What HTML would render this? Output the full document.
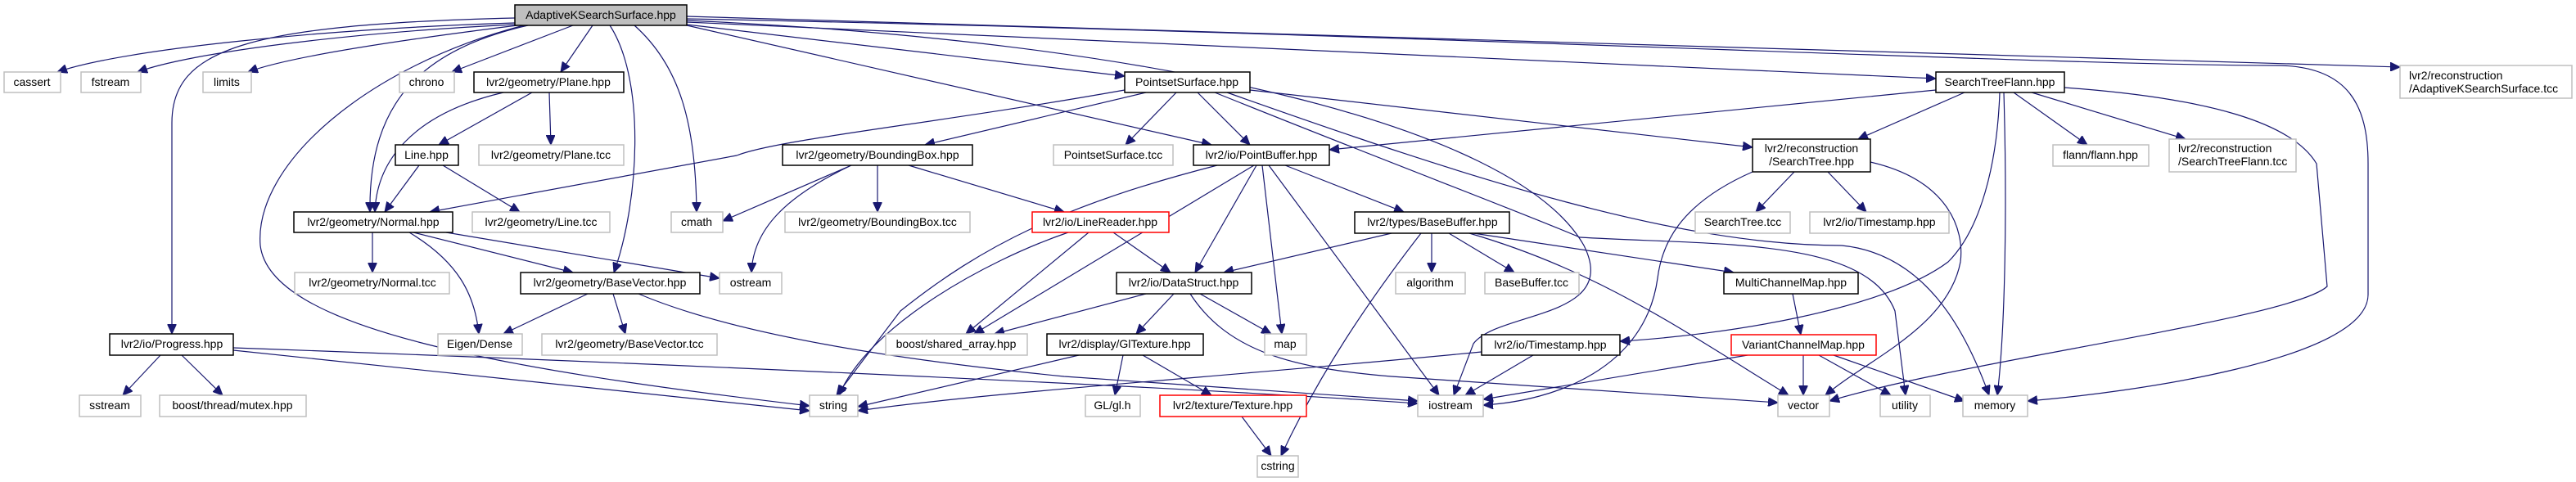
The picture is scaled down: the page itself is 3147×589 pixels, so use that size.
<!DOCTYPE html>
<html><head><meta charset="utf-8"><style>
html,body{margin:0;padding:0;background:#fff;}
svg{display:block;}
text{font-family:"Liberation Sans","DejaVu Sans",sans-serif;font-size:14px;fill:#000;}
.g{fill:#fff;stroke:#bfbfbf;stroke-width:1.5}
.b{fill:#fff;stroke:#000;stroke-width:1.5}
.r{fill:#fff;stroke:#ff0000;stroke-width:1.5}
.t{fill:#bfbfbf;stroke:#000;stroke-width:1.5}
.e path{fill:none;stroke:#191970;stroke-width:1.2;marker-end:url(#a)}
</style></head><body>
<svg width="3147" height="589" viewBox="0 0 3147 589" xmlns="http://www.w3.org/2000/svg">
<defs><marker id="a" markerUnits="userSpaceOnUse" markerWidth="13" markerHeight="11" refX="12" refY="5.5" orient="auto"><path d="M0,0 L12,5.5 L0,11 Z" fill="#191970" stroke="#191970"/></marker></defs>
<g class="e">
<path d="M629,28 C400,35 150,60 70,88"/>
<path d="M629,30 C420,40 230,65 168,88"/>
<path d="M632,31 C480,50 350,70 303,88"/>
<path d="M700,31 L552,88"/>
<path d="M724,31 L685,88"/>
<path d="M645,31 C520,60 450,120 452,259"/>
<path d="M640,31 C450,80 310,200 318,300 C330,400 600,450 989,496"/>
<path d="M629,22 C300,30 210,60 210,150 L210,408"/>
<path d="M745,31 C790,100 780,250 750,333"/>
<path d="M775,31 C830,80 850,150 851,259"/>
<path d="M839,30 L1374,93"/>
<path d="M839,31 L1480,177"/>
<path d="M839,25 C1400,50 1850,150 1935,300 C1980,390 1830,380 1800,420 L1776,483"/>
<path d="M839,27 L2365,96"/>
<path d="M839,23 C1700,40 2500,80 2780,80 C2870,80 2893,130 2893,200 L2893,360 C2893,440 2600,480 2477,490"/>
<path d="M839,20 L2932,82"/>
<path d="M615,113 C500,140 460,200 458,259"/>
<path d="M650,113 L536,177"/>
<path d="M671,113 L673,177"/>
<path d="M512,202 L470,259"/>
<path d="M541,202 L635,259"/>
<path d="M1374,110 C1150,150 950,170 900,190 L525,259"/>
<path d="M1400,113 L1130,177"/>
<path d="M1437,113 L1375,177"/>
<path d="M1463,113 L1527,177"/>
<path d="M1527,110 L2141,180"/>
<path d="M1499,113 C1800,220 2050,300 2250,300 C2350,310 2400,400 2430,483"/>
<path d="M1484,113 C1700,200 1860,260 1930,290 C2100,300 2280,290 2315,380 L2328,483"/>
<path d="M1487,202 C1300,250 1200,300 1100,380 L1022,483"/>
<path d="M1532,202 L1190,408"/>
<path d="M1535,202 L1460,333"/>
<path d="M1542,202 L1566,408"/>
<path d="M1570,202 L1715,259"/>
<path d="M1550,202 L1758,483"/>
<path d="M1040,202 L883,270"/>
<path d="M1072,202 L1072,259"/>
<path d="M1110,202 L1300,259"/>
<path d="M1040,202 C960,240 920,280 918,333"/>
<path d="M1305,284 C1200,320 1060,400 1025,483"/>
<path d="M1330,284 L1180,408"/>
<path d="M1360,284 L1430,333"/>
<path d="M1700,285 L1495,333"/>
<path d="M1749,285 L1749,333"/>
<path d="M1770,285 L1850,333"/>
<path d="M1800,285 L2118,333"/>
<path d="M1795,285 C1950,330 2050,400 2185,483"/>
<path d="M1736,285 C1670,370 1610,460 1565,557"/>
<path d="M1400,359 L1215,408"/>
<path d="M1434,359 L1388,408"/>
<path d="M1466,359 L1553,408"/>
<path d="M1454,359 C1500,430 1580,450 1700,460 L2172,492"/>
<path d="M1318,434 L1048,497"/>
<path d="M1372,434 L1362,483"/>
<path d="M1396,434 L1480,483"/>
<path d="M1517,509 L1553,557"/>
<path d="M2190,359 L2200,409"/>
<path d="M2135,434 L1812,488"/>
<path d="M2203,434 L2203,483"/>
<path d="M2222,434 L2310,483"/>
<path d="M2240,434 L2400,490"/>
<path d="M2192,210 L2145,259"/>
<path d="M2233,210 L2280,259"/>
<path d="M2141,210 C2050,250 2030,300 2025,340 C2010,450 1900,490 1812,495"/>
<path d="M2285,198 C2380,220 2400,280 2395,320 C2380,400 2280,440 2230,483"/>
<path d="M2365,110 L1624,183"/>
<path d="M2400,113 L2270,170"/>
<path d="M2460,113 L2550,177"/>
<path d="M2482,113 L2670,170"/>
<path d="M2448,113 C2452,250 2450,400 2440,483"/>
<path d="M2443,113 C2440,200 2420,280 2380,320 C2300,380 2100,410 1979,417"/>
<path d="M2522,107 C2700,120 2800,150 2830,200 L2843,350 C2800,390 2400,440 2235,490"/>
<path d="M1810,430 C1500,460 1200,480 1048,502"/>
<path d="M1873,434 L1790,483"/>
<path d="M285,428 L989,502"/>
<path d="M285,425 C700,440 1400,470 1732,493"/>
<path d="M196,434 L150,483"/>
<path d="M222,434 L272,483"/>
<path d="M718,359 L615,408"/>
<path d="M749,359 L764,408"/>
<path d="M780,359 C900,410 1100,440 1300,460 L1732,490"/>
<path d="M455,284 L455,333"/>
<path d="M500,284 C560,320 580,360 585,408"/>
<path d="M505,284 L700,333"/>
<path d="M545,284 L879,340"/>
</g>
<g>
<rect class="t" x="629" y="6" width="210" height="25"/><text x="734" y="23" text-anchor="middle">AdaptiveKSearchSurface.hpp</text>
<rect class="g" x="5" y="88" width="69" height="25"/><text x="39" y="105" text-anchor="middle">cassert</text>
<rect class="g" x="99" y="88" width="73" height="25"/><text x="135" y="105" text-anchor="middle">fstream</text>
<rect class="g" x="248" y="88" width="59" height="25"/><text x="277" y="105" text-anchor="middle">limits</text>
<rect class="g" x="488" y="88" width="67" height="25"/><text x="521" y="105" text-anchor="middle">chrono</text>
<rect class="b" x="579" y="88" width="183" height="25"/><text x="670" y="105" text-anchor="middle">lvr2/geometry/Plane.hpp</text>
<rect class="b" x="1374" y="88" width="153" height="25"/><text x="1450" y="105" text-anchor="middle">PointsetSurface.hpp</text>
<rect class="b" x="2365" y="88" width="157" height="25"/><text x="2443" y="105" text-anchor="middle">SearchTreeFlann.hpp</text>
<rect class="g" x="2932" y="80" width="210" height="40"/><text x="2943" y="97">lvr2/reconstruction</text><text x="2943" y="113">/AdaptiveKSearchSurface.tcc</text>
<rect class="b" x="483" y="177" width="77" height="25"/><text x="521" y="194" text-anchor="middle">Line.hpp</text>
<rect class="g" x="585" y="177" width="177" height="25"/><text x="673" y="194" text-anchor="middle">lvr2/geometry/Plane.tcc</text>
<rect class="b" x="956" y="177" width="232" height="25"/><text x="1072" y="194" text-anchor="middle">lvr2/geometry/BoundingBox.hpp</text>
<rect class="g" x="1287" y="177" width="146" height="25"/><text x="1360" y="194" text-anchor="middle">PointsetSurface.tcc</text>
<rect class="b" x="1458" y="177" width="166" height="25"/><text x="1541" y="194" text-anchor="middle">lvr2/io/PointBuffer.hpp</text>
<rect class="b" x="2141" y="170" width="144" height="40"/><text x="2213" y="186" text-anchor="middle">lvr2/reconstruction</text><text x="2213" y="202" text-anchor="middle">/SearchTree.hpp</text>
<rect class="g" x="2508" y="177" width="117" height="26"/><text x="2566" y="194" text-anchor="middle">flann/flann.hpp</text>
<rect class="g" x="2650" y="170" width="155" height="40"/><text x="2661" y="186">lvr2/reconstruction</text><text x="2661" y="202">/SearchTreeFlann.tcc</text>
<rect class="b" x="359" y="259" width="194" height="25"/><text x="456" y="276" text-anchor="middle">lvr2/geometry/Normal.hpp</text>
<rect class="g" x="577" y="259" width="168" height="25"/><text x="661" y="276" text-anchor="middle">lvr2/geometry/Line.tcc</text>
<rect class="g" x="820" y="259" width="63" height="25"/><text x="851" y="276" text-anchor="middle">cmath</text>
<rect class="g" x="959" y="259" width="226" height="25"/><text x="1072" y="276" text-anchor="middle">lvr2/geometry/BoundingBox.tcc</text>
<rect class="r" x="1261" y="259" width="167" height="25"/><text x="1344" y="276" text-anchor="middle">lvr2/io/LineReader.hpp</text>
<rect class="b" x="1655" y="259" width="189" height="26"/><text x="1750" y="276" text-anchor="middle">lvr2/types/BaseBuffer.hpp</text>
<rect class="g" x="2071" y="259" width="116" height="26"/><text x="2129" y="276" text-anchor="middle">SearchTree.tcc</text>
<rect class="g" x="2211" y="259" width="170" height="26"/><text x="2296" y="276" text-anchor="middle">lvr2/io/Timestamp.hpp</text>
<rect class="g" x="360" y="333" width="189" height="26"/><text x="455" y="350" text-anchor="middle">lvr2/geometry/Normal.tcc</text>
<rect class="b" x="636" y="333" width="219" height="26"/><text x="745" y="350" text-anchor="middle">lvr2/geometry/BaseVector.hpp</text>
<rect class="g" x="879" y="333" width="76" height="26"/><text x="917" y="350" text-anchor="middle">ostream</text>
<rect class="b" x="1364" y="333" width="165" height="26"/><text x="1446" y="350" text-anchor="middle">lvr2/io/DataStruct.hpp</text>
<rect class="g" x="1705" y="333" width="85" height="26"/><text x="1747" y="350" text-anchor="middle">algorithm</text>
<rect class="g" x="1814" y="333" width="115" height="26"/><text x="1871" y="350" text-anchor="middle">BaseBuffer.tcc</text>
<rect class="b" x="2106" y="333" width="164" height="26"/><text x="2188" y="350" text-anchor="middle">MultiChannelMap.hpp</text>
<rect class="b" x="134" y="408" width="151" height="26"/><text x="210" y="425" text-anchor="middle">lvr2/io/Progress.hpp</text>
<rect class="g" x="535" y="408" width="103" height="26"/><text x="586" y="425" text-anchor="middle">Eigen/Dense</text>
<rect class="g" x="662" y="408" width="214" height="26"/><text x="769" y="425" text-anchor="middle">lvr2/geometry/BaseVector.tcc</text>
<rect class="g" x="1082" y="408" width="173" height="26"/><text x="1168" y="425" text-anchor="middle">boost/shared_array.hpp</text>
<rect class="b" x="1279" y="408" width="191" height="26"/><text x="1374" y="425" text-anchor="middle">lvr2/display/GlTexture.hpp</text>
<rect class="g" x="1545" y="408" width="51" height="26"/><text x="1570" y="425" text-anchor="middle">map</text>
<rect class="b" x="1810" y="409" width="169" height="25"/><text x="1894" y="426" text-anchor="middle">lvr2/io/Timestamp.hpp</text>
<rect class="r" x="2115" y="409" width="177" height="25"/><text x="2203" y="426" text-anchor="middle">VariantChannelMap.hpp</text>
<rect class="g" x="97" y="483" width="75" height="26"/><text x="134" y="500" text-anchor="middle">sstream</text>
<rect class="g" x="195" y="483" width="179" height="26"/><text x="284" y="500" text-anchor="middle">boost/thread/mutex.hpp</text>
<rect class="g" x="989" y="483" width="59" height="26"/><text x="1018" y="500" text-anchor="middle">string</text>
<rect class="g" x="1326" y="483" width="67" height="26"/><text x="1359" y="500" text-anchor="middle">GL/gl.h</text>
<rect class="r" x="1417" y="483" width="179" height="26"/><text x="1506" y="500" text-anchor="middle">lvr2/texture/Texture.hpp</text>
<rect class="g" x="1732" y="483" width="80" height="26"/><text x="1772" y="500" text-anchor="middle">iostream</text>
<rect class="g" x="2172" y="483" width="63" height="26"/><text x="2203" y="500" text-anchor="middle">vector</text>
<rect class="g" x="2297" y="483" width="61" height="26"/><text x="2327" y="500" text-anchor="middle">utility</text>
<rect class="g" x="2398" y="483" width="79" height="26"/><text x="2437" y="500" text-anchor="middle">memory</text>
<rect class="g" x="1536" y="557" width="50" height="26"/><text x="1561" y="574" text-anchor="middle">cstring</text>
</g>
</svg>
</body></html>
